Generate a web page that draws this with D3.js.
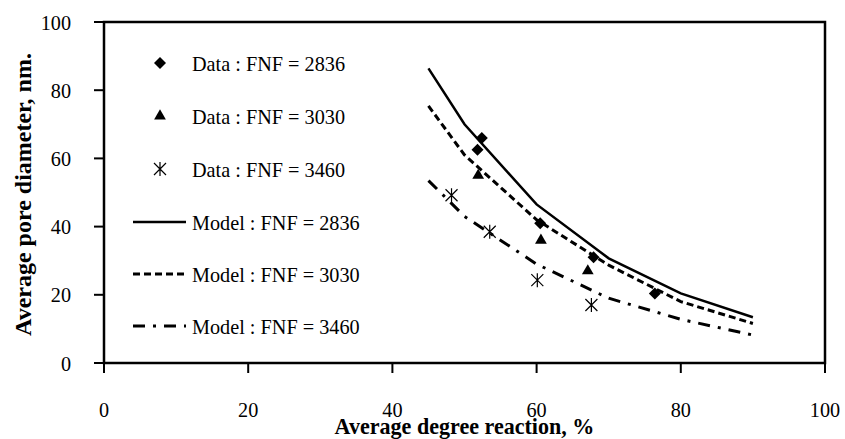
<!DOCTYPE html>
<html lang="en">
<head>
  <meta charset="UTF-8">
  <title>Average pore diameter</title>
  <script src="https://d3js.org/d3.v7.min.js"></script>
  <style>
    body { margin: 0; background: #fff; }
  </style>
</head>
<body>
<svg id="chart"></svg>
<script>
  // Model curves (x = degree of reaction, %)
  const modelX = [45, 50, 60, 70, 80, 90];
  const model2836 = [86.4, 70.0, 46.5, 30.7, 20.4, 13.4];
  const model3030 = [75.4, 61.0, 42.0, 28.7, 18.0, 11.6];
  const model3460 = [53.5, 43.0, 29.0, 19.0, 12.8, 8.2];

  // Measured points
  const data2836X = [51.8, 52.4, 60.5, 67.9, 76.4];
  const data2836Y = [62.5, 66.0, 41.0, 31.0, 20.4];
  const data3030X = [51.9, 60.6, 67.1];
  const data3030Y = [55.0, 36.0, 27.0];
  const data3460X = [48.2, 53.5, 60.1, 67.6];
  const data3460Y = [49.2, 38.5, 24.3, 17.0];

  const xTicks = [0, 20, 40, 60, 80, 100];
  const yTicks = [0, 20, 40, 60, 80, 100];

  const legendLabels = [
    "Data : FNF = 2836", "Data : FNF = 3030", "Data : FNF = 3460",
    "Model : FNF = 2836", "Model : FNF = 3030", "Model : FNF = 3460"
  ];

  const FONT = "'Liberation Serif'";
  const SQUEEZE = 0.92;   // source picture is slightly narrowed
  const W = 845, H = 439;
  const margin = { top: 22, right: 20, bottom: 76, left: 104 };
  const width = W - margin.left - margin.right;
  const height = H - margin.top - margin.bottom;

  const svg = d3.select("#chart").attr("width", W).attr("height", H);
  const g = svg.append("g").attr("transform", `translate(${margin.left},${margin.top})`);

  const x = d3.scaleLinear().domain([0, 100]).range([0, width]);
  const y = d3.scaleLinear().domain([0, 100]).range([height, 0]);

  function label(sel, tx, ty, str, size, anchor, bold) {
    return sel.append("text")
      .attr("transform", `translate(${tx},${ty}) scale(${SQUEEZE},1)`)
      .attr("text-anchor", anchor || "start")
      .style("font-family", FONT).style("font-size", size + "px")
      .style("font-weight", bold ? "bold" : "normal")
      .text(str);
  }

  // frame
  g.append("rect").attr("x", 0).attr("y", 0).attr("width", width).attr("height", height)
    .attr("fill", "none").attr("stroke", "#000").attr("stroke-width", 2.5);

  // y ticks
  yTicks.forEach(t => {
    g.append("line").attr("x1", -10).attr("x2", 0).attr("y1", y(t)).attr("y2", y(t))
      .attr("stroke", "#000").attr("stroke-width", 2);
    label(g, -33, y(t) + 7.5, t, 22, "end");
  });

  // x ticks
  xTicks.forEach(t => {
    g.append("line").attr("x1", x(t)).attr("x2", x(t)).attr("y1", height).attr("y2", height + 10)
      .attr("stroke", "#000").attr("stroke-width", 2);
    label(g, x(t), height + 54, t, 22, "middle");
  });

  // axis titles
  label(svg, margin.left + width / 2, 434, "Average degree reaction, %", 24, "middle", true);
  svg.append("text").attr("transform", `translate(31,${margin.top + height / 2 + 2}) rotate(-90)`)
    .attr("text-anchor", "middle").style("font-family", FONT)
    .style("font-size", "24px").style("font-weight", "bold")
    .text("Average pore diameter, nm.");

  // model lines
  const line = d3.line().x(d => x(d[0])).y(d => y(d[1]));
  const models = [
    { vals: model2836, dash: null },
    { vals: model3030, dash: "7,4" },
    { vals: model3460, dash: "12,8,3,8" }
  ];
  models.forEach(m => {
    g.append("path").datum(modelX.map((v, i) => [v, m.vals[i]]))
      .attr("d", line).attr("fill", "none").attr("stroke", "#000")
      .attr("stroke-width", m.dash ? 3 : 2.5)
      .attr("stroke-dasharray", m.dash);
  });

  // markers
  function drawMarker(sel, kind, cx, cy) {
    if (kind === "diamond") {
      sel.append("path").attr("d", d3.symbol().type(d3.symbolSquare).size(72)())
        .attr("transform", `translate(${cx},${cy}) rotate(45)`).attr("fill", "#000");
    } else if (kind === "triangle") {
      sel.append("path").attr("d", d3.symbol().type(d3.symbolTriangle).size(60)())
        .attr("transform", `translate(${cx},${cy})`).attr("fill", "#000");
    } else {
      const r = 6;
      sel.append("path")
        .attr("d", `M${-r},${-r}L${r},${r}M${-r},${r}L${r},${-r}M0,${-r - 1}L0,${r + 1}`)
        .attr("transform", `translate(${cx},${cy})`).attr("stroke", "#000")
        .attr("stroke-width", 1.2).attr("fill", "none");
    }
  }
  const series = [
    { xs: data2836X, ys: data2836Y, kind: "diamond" },
    { xs: data3030X, ys: data3030Y, kind: "triangle" },
    { xs: data3460X, ys: data3460Y, kind: "star" }
  ];
  series.forEach(s => s.xs.forEach((v, i) => drawMarker(g, s.kind, x(v), y(s.ys[i]))));

  // legend
  const rowY = [63, 116, 169, 222, 274, 326];
  legendLabels.forEach((lab, i) => {
    if (i < 3) {
      drawMarker(svg, series[i].kind, 160, rowY[i]);
    } else {
      svg.append("line").attr("x1", 133).attr("x2", 186).attr("y1", rowY[i]).attr("y2", rowY[i])
        .attr("stroke", "#000").attr("stroke-width", models[i - 3].dash ? 3 : 2.5)
        .attr("stroke-dasharray", models[i - 3].dash);
    }
    label(svg, 192, rowY[i] + 7.5, lab, 22);
  });
</script>
</body>
</html>
